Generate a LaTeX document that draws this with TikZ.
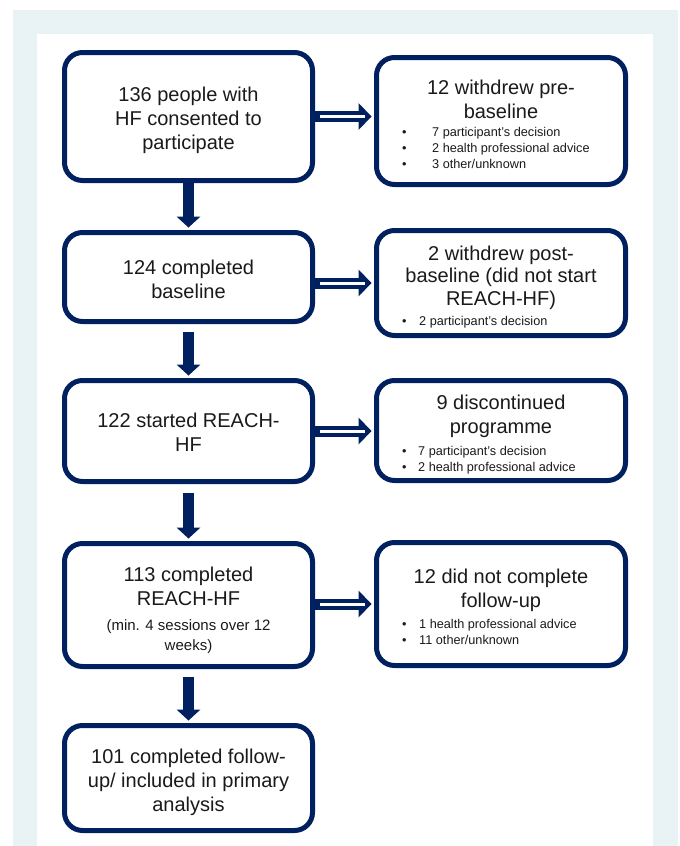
\documentclass[tikz,border=0pt]{standalone}
\usepackage{fontspec}
\setmainfont{Liberation Sans}
\usepackage{xcolor}
\usetikzlibrary{arrows.meta}

\definecolor{navy}{HTML}{002060}
\definecolor{panelbg}{HTML}{E9F2F4}
\definecolor{ink}{HTML}{1A1A1A}

\newcommand{\bigtext}{\fontsize{20}{24}\selectfont}
\newcommand{\smalltext}{\fontsize{12.7}{16}\selectfont}
\newcommand{\notetext}{\fontsize{15}{20}\selectfont}

\tikzset{
    box/.style={draw=navy, line width=5pt, rounded corners=18pt, fill=white, inner sep=0pt},
    boxtitle/.style={text=ink, align=center, inner sep=0pt, font=\bigtext},
    bullets/.style={text=ink, align=left, inner sep=0pt, anchor=west, font=\smalltext},
    downarrow/.style={draw=navy, line width=11pt,
        -{Triangle[width=24pt, length=11pt, line width=0pt]}, shorten >=2.5pt},
    sidearrow/.style={draw=navy, line width=11pt,
        -{Triangle[width=27pt, length=13pt, line width=0pt]}, shorten >=2.5pt},
    sidecore/.style={draw=white, line width=3pt, shorten <=4.5pt, shorten >=9.5pt}
}

\begin{document}
\begin{tikzpicture}[x=1pt, y=-1pt]
            \useasboundingbox (0,0) rectangle (680,846);
            \fill[panelbg] (13,10) rectangle (678,846);
            \fill[white] (37,34) rectangle (653,846);

            \node[box, minimum width=248pt, minimum height=128pt] (b1) at (188.5, 116.5) {};
            \node[box, minimum width=248pt, minimum height=89pt] (b3) at (188.5, 277) {};
            \node[box, minimum width=248pt, minimum height=101pt] (b5) at (188.5, 431) {};
            \node[box, minimum width=248pt, minimum height=123pt] (b7) at (188.5, 605) {};
            \node[box, minimum width=248pt, minimum height=105pt] (b9) at (188.5, 778) {};

            \node[box, minimum width=249pt, minimum height=127pt] (b2) at (501, 121) {};
            \node[box, minimum width=249pt, minimum height=105pt] (b4) at (501, 283) {};
            \node[box, minimum width=249pt, minimum height=100pt] (b6) at (501, 430.5) {};
            \node[box, minimum width=249pt, minimum height=123pt] (b8) at (501, 604) {};

            \node[boxtitle] (b1t) at (188.5, 120.5) {136 people with\\HF consented to\\participate};
            \node[boxtitle] (b3t) at (188.5, 279) {124 completed\\baseline};
            \node[boxtitle] (b5t) at (188.5, 432) {122 started REACH-\\HF};
            \node[boxtitle] (b7t) at (188.5, 610) {113 completed\\REACH-HF\\[1pt]\notetext(min. 4 sessions over 12\\[-4pt]\notetext weeks)};
            \node[boxtitle] (b9t) at (188.5, 782) {101 completed follow-\\up/ included in primary\\analysis};

            \node[boxtitle] (b2t) at (501, 99) {12 withdrew pre-\\baseline};
            \node[boxtitle] (b4t) at (501, 277.5) {2 withdrew post-\\[-1.5pt]baseline (did not start\\[-1.5pt]REACH-HF)};
            \node[boxtitle] (b6t) at (501, 416) {9 discontinued\\programme};
            \node[boxtitle] (b8t) at (501, 590) {12 did not complete\\follow-up};

            \node[bullets] (b2l) at (402, 148) {\makebox[30pt][l]{•}7 participant’s decision\\\makebox[30pt][l]{•}2 health professional advice\\\makebox[30pt][l]{•}3 other/unknown};
            \node[bullets] (b4l) at (402, 322) {\makebox[17pt][l]{•}2 participant’s decision};
            \node[bullets] (b6l) at (402, 460) {\makebox[16pt][l]{•}7 participant’s decision\\\makebox[16pt][l]{•}2 health professional advice};
            \node[bullets] (b8l) at (402, 632) {\makebox[17pt][l]{•}1 health professional advice\\\makebox[17pt][l]{•}11 other/unknown};

            \draw[downarrow] (b1.south) -- (b3.north);
            \draw[downarrow, shorten <=7.5pt] (b3.south) -- (b5.north);
            \draw[downarrow, shorten <=8.5pt] (b5.south) -- (b7.north);
            \draw[downarrow, shorten <=7.5pt] (b7.south) -- (b9.north);

            \draw[sidearrow] (b1.east) -- (b1.east -| b2.west);
            \draw[sidecore] (b1.east) -- (b1.east -| b2.west);
            \draw[sidearrow] (b4.west -| b3.east) -- (b4.west);
            \draw[sidecore] (b4.west -| b3.east) -- (b4.west);
            \draw[sidearrow] (b5.east) -- (b5.east -| b6.west);
            \draw[sidecore] (b5.east) -- (b5.east -| b6.west);
            \draw[sidearrow] (b8.west -| b7.east) -- (b8.west);
            \draw[sidecore] (b8.west -| b7.east) -- (b8.west);
        \end{tikzpicture}
\end{document}
